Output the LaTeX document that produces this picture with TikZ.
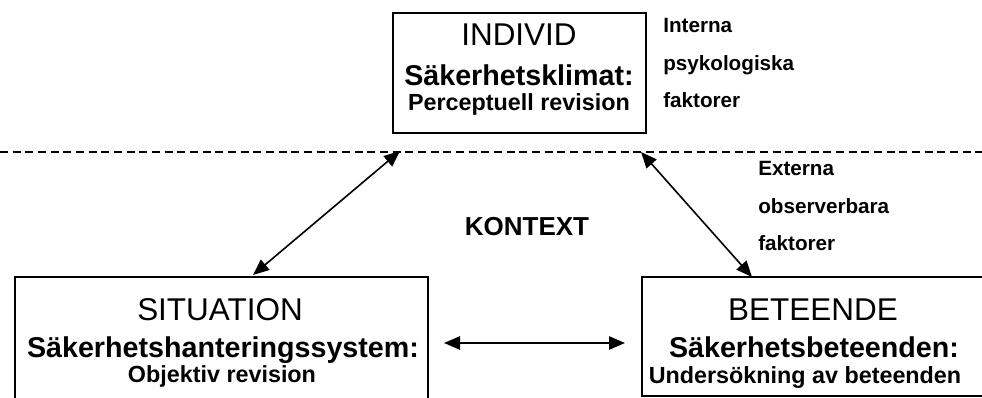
\documentclass[tikz,border=0pt]{standalone}
\usepackage{fontspec}
\setmainfont{Liberation Sans}
\usetikzlibrary{arrows.meta}
\begin{document}
\begin{tikzpicture}[x=0.75pt,y=-0.75pt,
  boxstyle/.style={draw=black,line width=1.5pt},
  big/.style={font=\fontsize{23.6}{26}\selectfont,anchor=base,inner sep=0pt},
  mid/.style={font=\fontsize{21.5}{24}\selectfont\bfseries,anchor=base,inner sep=0pt},
  small/.style={font=\fontsize{17.5}{20}\selectfont\bfseries,anchor=base,inner sep=0pt},
  side/.style={font=\fontsize{15.5}{18}\selectfont\bfseries,anchor=base west,inner sep=0pt},
  dbl/.style={line width=1.2pt,{Triangle[length=12pt,width=10pt]}-{Triangle[length=12pt,width=10pt]}}]
\useasboundingbox (0,0) rectangle (982,397);
\begin{scope}
\clip (0,0) rectangle (982,397);
% boxes
\draw[boxstyle] (393,13) rectangle (646,133);
\draw[boxstyle] (15,277) rectangle (428,410);
\draw[boxstyle] (642,277) rectangle (995,396);
% dashed line
\coordinate (dl) at (0,152);
\coordinate (dr) at (982,152);
\draw[line width=1.2pt,dash pattern=on 6pt off 3.5pt] (dl) -- (dr);
\end{scope}
% top box text
\node[big] (t1) at (519,45) {INDIVID};
\node[mid] (t2) at (519,85) {Säkerhetsklimat:};
\node[small] (t3) at (519,110) {Perceptuell revision};
% left box text
\node[big] (l1) at (220,320) {SITUATION};
\node[mid] (l2) at (223,357) {Säkerhetshanteringssystem:};
\node[small] (l3) at (222,382) {Objektiv revision};
% right box text
\node[big] (r1) at (813,320) {BETEENDE};
\node[mid] (r2) at (814,357) {Säkerhetsbeteenden:};
\node[small] (r3) at (805,383) {Undersökning av beteenden};
% side texts
\node[side] (i1) at (663,32) {Interna};
\node[side] (i2) at (663,70) {psykologiska};
\node[side] (i3) at (663,107) {faktorer};
\node[side] (e1) at (758,175) {Externa};
\node[side] (e2) at (758,213) {observerbara};
\node[side] (e3) at (758,250) {faktorer};
\node[font=\fontsize{19.5}{22}\selectfont\bfseries,anchor=base,inner sep=0pt] (k) at (527,235) {KONTEXT};
% arrow endpoints
\coordinate (a1) at (400,151);
\coordinate (a2) at (253,275);
\coordinate (b1) at (641,152);
\coordinate (b2) at (752,277);
\coordinate (c1) at (444,343);
\coordinate (c2) at (625,343);
\draw[dbl] (a1) -- (a2);
\draw[dbl] (b1) -- (b2);
\draw[dbl] (c1) -- (c2);
\end{tikzpicture}
\end{document}
